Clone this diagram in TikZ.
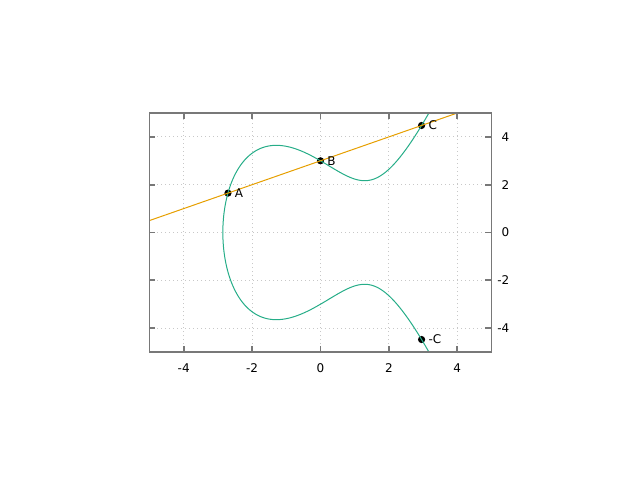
\documentclass[tikz,border=0pt]{standalone}
\usepackage{fontspec}
\setmainfont{DejaVu Sans}
\definecolor{curvegreen}{HTML}{009E73}
\definecolor{lineorange}{HTML}{E69F00}
\definecolor{bordergray}{HTML}{787878}
\definecolor{gridgray}{HTML}{C8C8C8}
\begin{document}
\begin{tikzpicture}[x=25.65pt,y=17.925pt,
  declare function={ec(\x)=\x*\x*\x-5*\x+9;},
  gridline/.style={gridgray,line width=0.75pt,dash pattern=on 0.75pt off 2.25pt},
  frame/.style={bordergray,line width=1.4pt},
  tickmark/.style={bordergray,line width=1.4pt},
  ticklabel/.style={font=\fontsize{9}{10}\selectfont,inner sep=0pt},
  ptlabel/.style={font=\fontsize{9}{10}\selectfont,inner sep=0pt,anchor=west,xshift=5pt},
  dot/.style={circle,fill=black,inner sep=0pt,minimum size=5.4pt},
  ecurve/.style={curvegreen!85,line width=0.75pt},
  secant/.style={lineorange,line width=0.75pt}]
\useasboundingbox (-9.371,-10.356) rectangle (9.342,9.728);
% grid
\foreach \v in {-4,-2,0,2,4}{
  \draw[gridline] (\v,-5) -- (\v,5);
  \draw[gridline] (-5,\v) -- (5,\v);
}
% points
\node[dot] (A) at (-2.706,1.647) {};
\node[dot] (B) at (0,3) {};
\node[dot] (C) at (2.956,4.478) {};
\node[dot] (mC) at (2.956,-4.478) {};
% curves
\begin{scope}
\clip (-5,-5) rectangle (5,5);
\draw[ecurve] plot[domain=-2.47:2.47, samples=401, variable=\t]
  ({-2.8552+\t*\t}, {sign(\t)*sqrt(max(0,ec(-2.8552+\t*\t)))});
\coordinate (L0) at (-5,0.5);
\coordinate (L1) at (4,5);
\draw[secant] (L0) -- (L1);
\end{scope}
% point labels
\node[ptlabel] (lA) at (A.center) {A};
\node[ptlabel] (lB) at (B.center) {B};
\node[ptlabel] (lC) at (C.center) {C};
\node[ptlabel] (lmC) at (mC.center) {-C};
% ticks
\foreach \v in {-4,-2,0,2,4}{
  \draw[tickmark] (\v,-5) -- ++(0,4.5pt);
  \draw[tickmark] (\v,5) -- ++(0,-4.5pt);
  \draw[tickmark] (-5,\v) -- ++(4.5pt,0);
  \draw[tickmark] (5,\v) -- ++(-4.5pt,0);
  \node[ticklabel] at (\v,-5.67) {\v};
  \node[ticklabel,anchor=east] at (5.526,\v) {\v};
}
% frame
\draw[frame] (-5,-5) rectangle (5,5);
\end{tikzpicture}
\end{document}
